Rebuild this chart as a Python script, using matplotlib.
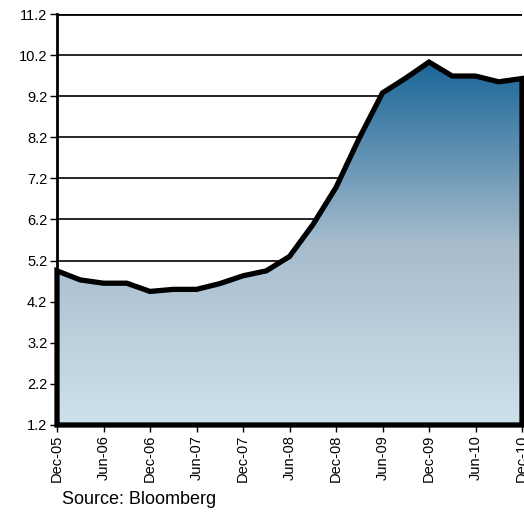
import matplotlib
matplotlib.use("Agg")
import matplotlib.pyplot as plt
import numpy as np
from matplotlib.colors import LinearSegmentedColormap
from matplotlib.patches import Polygon

plt.rcParams['font.family'] = ['Liberation Sans', 'DejaVu Sans']

quarters = ["Dec-05", "Mar-06", "Jun-06", "Sep-06", "Dec-06", "Mar-07", "Jun-07",
            "Sep-07", "Dec-07", "Mar-08", "Jun-08", "Sep-08", "Dec-08", "Mar-09",
            "Jun-09", "Sep-09", "Dec-09", "Mar-10", "Jun-10", "Sep-10", "Dec-10"]
values = [4.95, 4.73, 4.65, 4.65, 4.45, 4.50, 4.50, 4.64, 4.83, 4.95, 5.30,
          6.07, 6.98, 8.18, 9.28, 9.64, 10.03, 9.69, 9.69, 9.55, 9.63]
tick_labels = ["Dec-05", "Jun-06", "Dec-06", "Jun-07", "Dec-07", "Jun-08",
               "Dec-08", "Jun-09", "Dec-09", "Jun-10", "Dec-10"]
yticks = [1.2, 2.2, 3.2, 4.2, 5.2, 6.2, 7.2, 8.2, 9.2, 10.2, 11.2]

W, H = 524, 513
fig = plt.figure(figsize=(W/100, H/100), dpi=100)
ax = fig.add_axes([57/W, 1-425/H, (522-57)/W, (425-14)/H])

x = np.arange(len(values))
ymin, ymax = 1.2, 11.2
ax.set_xlim(0, len(values)-1)
ax.set_ylim(ymin, ymax)

for yv in yticks:
    ax.axhline(yv, color='black', lw=2.0 if yv == ymax else 1.2, zorder=1)

verts = [(0, ymin)] + list(zip(x, values)) + [(x[-1], ymin)]
cmap = LinearSegmentedColormap.from_list('g', [(0, '#cfe2eb'), (0.5, '#a6bccd'), (1, '#1a6698')])
grad = np.linspace(0, 1, 256).reshape(-1, 1)
im = ax.imshow(grad, aspect='auto', cmap=cmap, origin='lower',
               extent=[0, x[-1], ymin, max(values)], zorder=2)
poly = Polygon(verts, closed=True, facecolor='none', edgecolor='none')
ax.add_patch(poly)
im.set_clip_path(poly)
outline = Polygon(verts, closed=True, facecolor='none', edgecolor='black',
                  lw=3.8, joinstyle='miter', zorder=3, clip_on=False)
ax.add_patch(outline)

ax.set_yticks(yticks)
ax.set_yticklabels([f"{v:.1f}" for v in yticks], fontsize=10.5)
ax.set_xticks(x[::2])
ax.set_xticklabels(tick_labels, rotation=90, fontsize=10.5)
ax.tick_params(axis='y', length=5, width=1, pad=2)
ax.tick_params(axis='x', length=5, width=1, pad=2)

for s in ['top', 'right', 'bottom']:
    ax.spines[s].set_visible(False)
ax.spines['left'].set_linewidth(2)
ax.spines['left'].set_zorder(4)

fig.text(62/W, 1-499/H, "Source: Bloomberg", fontsize=13, va='center', ha='left')

fig.savefig("out.png", dpi=100)
